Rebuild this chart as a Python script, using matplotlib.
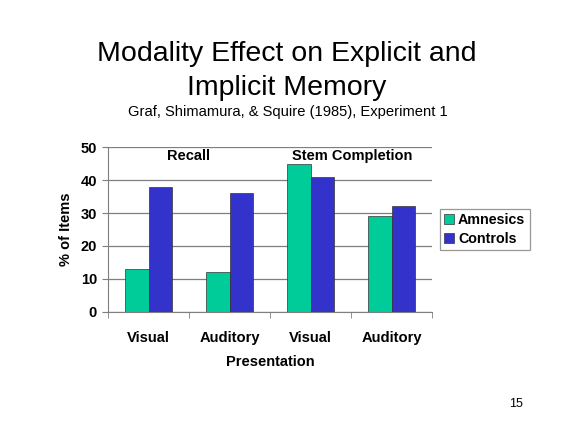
import numpy as np
import matplotlib.pyplot as plt

plt.rcParams['font.family'] = ['Liberation Sans', 'DejaVu Sans']

# --- data ---
categories = ['Visual', 'Auditory', 'Visual', 'Auditory']
amnesics = [13, 12, 45, 29]
controls = [38, 36, 41, 32]
series_names = ['Amnesics', 'Controls']
y_ticks = [0, 10, 20, 30, 40, 50]

col_amn = '#00CC99'
col_con = '#3333CC'
grid_col = '#7f7f7f'

fig = plt.figure(figsize=(5.76, 4.32), dpi=100)
ax = fig.add_axes([0.1875, 0.2778, 0.5625, 0.3819])

x = np.arange(len(categories))
w = 0.285
ax.bar(x - w, amnesics, w, align='edge', color=col_amn,
       edgecolor='#333333', linewidth=0.5, label=series_names[0], zorder=3)
ax.bar(x, controls, w, align='edge', color=col_con,
       edgecolor='#333333', linewidth=0.5, label=series_names[1], zorder=3)

ax.set_xlim(-0.5, 3.5)
ax.set_ylim(0, 50)
ax.set_yticks(y_ticks)
ax.set_yticklabels([str(t) for t in y_ticks], fontsize=10.5, fontweight='bold')
ax.set_xticks(x)
ax.set_xticklabels(categories, fontsize=10.6, fontweight='bold')
ax.set_xticks(np.arange(-0.5, 4.0, 1.0), minor=True)
ax.tick_params(axis='x', which='major', length=0, pad=14)
ax.tick_params(axis='x', which='minor', length=4, color=grid_col, direction='out')
ax.tick_params(axis='y', length=4, color=grid_col, direction='out', pad=4)

ax.yaxis.grid(True, color=grid_col, linewidth=0.9, zorder=0)
ax.set_axisbelow(True)
for s in ['top', 'right']:
    ax.spines[s].set_visible(False)
ax.spines['left'].set_color(grid_col)
ax.spines['bottom'].set_color(grid_col)

ax.set_xlabel('Presentation', fontsize=10.5, fontweight='bold', labelpad=7)
ax.set_ylabel('% of Items', fontsize=10.5, fontweight='bold', labelpad=5)

ax.text(0.5, 47.3, 'Recall', ha='center', va='center', fontsize=10.5, fontweight='bold')
ax.text(2.52, 47.3, 'Stem Completion', ha='center', va='center', fontsize=10.5,
        fontweight='bold')

leg = ax.legend(loc='center left', bbox_to_anchor=(1.01, 0.5),
                prop={'weight': 'bold', 'size': 10.3}, frameon=True, fancybox=False,
                handlelength=0.7, handleheight=0.7, handletextpad=0.3,
                borderpad=0.3, labelspacing=0.35, borderaxespad=0.3)
leg.get_frame().set_edgecolor(grid_col)
leg.get_frame().set_linewidth(0.9)

# titles
fig.text(0.4975, 1 - 61 / 432, 'Modality Effect on Explicit and', ha='center',
         va='baseline', fontsize=20.5)
fig.text(0.4975, 1 - 95 / 432, 'Implicit Memory', ha='center', va='baseline',
         fontsize=20.5)
fig.text(0.5, 1 - 116 / 432, 'Graf, Shimamura, & Squire (1985), Experiment 1',
         ha='center', va='baseline', fontsize=10.6)
fig.text(516.5 / 576, 1 - 407 / 432, '15', ha='center', va='baseline', fontsize=9)

fig.savefig('out.png', dpi=100)
